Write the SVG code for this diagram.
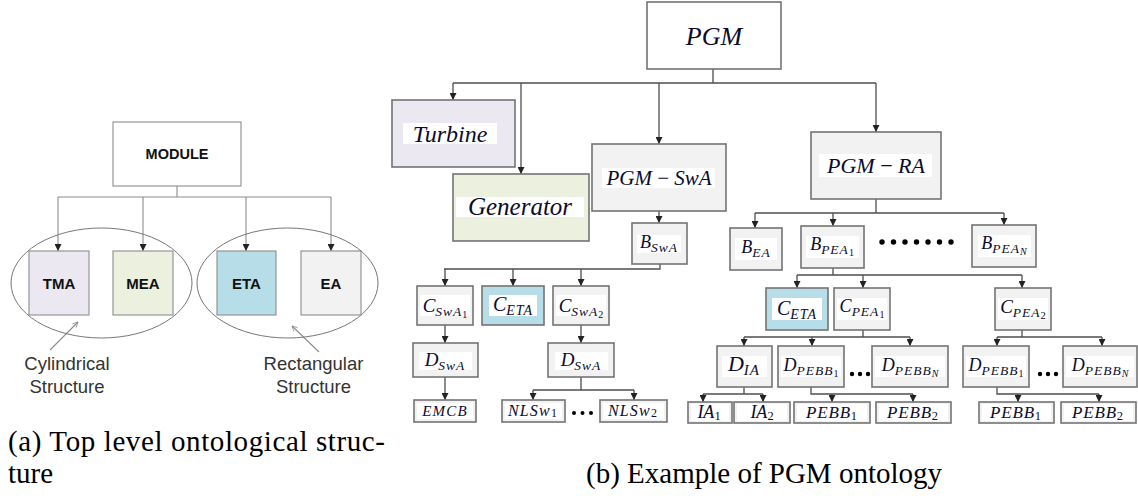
<svg xmlns="http://www.w3.org/2000/svg" width="1138" height="496" viewBox="0 0 1138 496">
<style>
.bx{fill:#f2f2f2;stroke:#737373;stroke-width:1.6}
.in{fill:#ffffff;stroke:none}
.lb{stroke:#8c8c8c;stroke-width:1.1}
.cn{fill:none;stroke:#4d4d4d;stroke-width:1.3}
.lc{fill:none;stroke:#8c8c8c;stroke-width:1.1}
.m{font-family:"Liberation Serif","Times New Roman",serif;font-style:italic;fill:#0b0b2e;text-anchor:middle}
.n{font-style:normal}
.s{letter-spacing:1px}
.sb{font-family:"Liberation Sans",Arial,sans-serif;font-weight:bold;fill:#111;text-anchor:middle}
.ss{font-family:"Liberation Sans",Arial,sans-serif;fill:#333;text-anchor:middle;font-size:18.5px}
.cap{font-family:"Liberation Serif","Times New Roman",serif;fill:#000;font-size:29px}
</style>
<defs>
<marker id="ah" viewBox="0 0 8 8" refX="8" refY="4" markerWidth="7" markerHeight="7" markerUnits="userSpaceOnUse" orient="auto"><path d="M0,0 L8,4 L0,8 z" fill="#222"/></marker>
<marker id="al" viewBox="0 0 8 8" refX="8" refY="4" markerWidth="6" markerHeight="6" markerUnits="userSpaceOnUse" orient="auto"><path d="M1,0.5 L8,4 L1,7.5" fill="none" stroke="#8c8c8c" stroke-width="1"/></marker>
</defs>

<!-- Left panel -->
<g id="left-connectors">
<path class="lc" d="M177,186 V197 M58,197 H331"/>
<line class="lc" x1="58" y1="197" x2="58" y2="251" marker-end="url(#ah)"/>
<line class="lc" x1="143" y1="197" x2="143" y2="251" marker-end="url(#ah)"/>
<line class="lc" x1="246" y1="197" x2="246" y2="251" marker-end="url(#ah)"/>
<line class="lc" x1="331" y1="197" x2="331" y2="251" marker-end="url(#ah)"/>
<line class="lc" x1="50" y1="350" x2="78" y2="322" marker-end="url(#al)"/>
<line class="lc" x1="319" y1="352" x2="292" y2="326" marker-end="url(#al)"/>
</g>
<g id="module"><rect x="113" y="122" width="128" height="64" fill="#fff" class="lb"/><text class="sb" x="177" y="159" font-size="14.5">MODULE</text></g>
<g id="cyl"><ellipse cx="101.5" cy="283" rx="90.5" ry="55" fill="none" stroke="#777" stroke-width="1"/></g>
<g id="rect"><ellipse cx="287.5" cy="283" rx="90.5" ry="55" fill="none" stroke="#777" stroke-width="1"/></g>
<g id="tma"><rect x="29" y="251" width="60" height="64" fill="#ebe8f2" class="lb"/><text class="sb" x="59" y="289" font-size="15">TMA</text></g>
<g id="mea"><rect x="113" y="251" width="60" height="64" fill="#ebf1de" class="lb"/><text class="sb" x="143" y="289" font-size="15">MEA</text></g>
<g id="eta"><rect x="217" y="251" width="59" height="64" fill="#b7dee8" class="lb"/><text class="sb" x="246.5" y="289" font-size="15">ETA</text></g>
<g id="ea"><rect x="301" y="251" width="60" height="64" fill="#f2f2f2" class="lb"/><text class="sb" x="331" y="289" font-size="15">EA</text></g>
<g id="lbl-cyl"><text class="ss" x="67" y="370">Cylindrical</text><text class="ss" x="67" y="393">Structure</text></g>
<g id="lbl-rect"><text class="ss" x="313.5" y="370">Rectangular</text><text class="ss" x="313.5" y="393">Structure</text></g>

<!-- Right panel connectors -->
<g id="connectors">
<path class="cn" d="M713,69 V83 M453,83 H876"/>
<line class="cn" x1="453" y1="83" x2="453" y2="100" marker-end="url(#ah)"/>
<line class="cn" x1="521" y1="83" x2="521" y2="174" marker-end="url(#ah)"/>
<line class="cn" x1="659" y1="83" x2="659" y2="144" marker-end="url(#ah)"/>
<line class="cn" x1="876" y1="83" x2="876" y2="132" marker-end="url(#ah)"/>
<line class="cn" x1="659" y1="211" x2="659" y2="223" marker-end="url(#ah)"/>
<path class="cn" d="M660,264 V269 H444"/>
<line class="cn" x1="445" y1="269" x2="445" y2="286" marker-end="url(#ah)"/>
<line class="cn" x1="513" y1="269" x2="513" y2="286" marker-end="url(#ah)"/>
<line class="cn" x1="581" y1="269" x2="581" y2="286" marker-end="url(#ah)"/>
<line class="cn" x1="445" y1="325" x2="445" y2="343" marker-end="url(#ah)"/>
<line class="cn" x1="445" y1="377" x2="445" y2="400" marker-end="url(#ah)"/>
<line class="cn" x1="581" y1="325" x2="581" y2="343" marker-end="url(#ah)"/>
<path class="cn" d="M581,377 V390 M533,390 H634"/>
<line class="cn" x1="533" y1="390" x2="533" y2="400" marker-end="url(#ah)"/>
<line class="cn" x1="634" y1="390" x2="634" y2="400" marker-end="url(#ah)"/>
<path class="cn" d="M876,199 V213 M755,213 H1004"/>
<line class="cn" x1="755" y1="213" x2="755" y2="228" marker-end="url(#ah)"/>
<line class="cn" x1="833" y1="213" x2="833" y2="226" marker-end="url(#ah)"/>
<line class="cn" x1="1004" y1="213" x2="1004" y2="225" marker-end="url(#ah)"/>
<path class="cn" d="M833,268 V275 M797,275 H1022"/>
<line class="cn" x1="797" y1="275" x2="797" y2="288" marker-end="url(#ah)"/>
<line class="cn" x1="863" y1="275" x2="863" y2="288" marker-end="url(#ah)"/>
<line class="cn" x1="1022" y1="275" x2="1022" y2="288" marker-end="url(#ah)"/>
<path class="cn" d="M863,330 V337 M744,337 H910"/>
<line class="cn" x1="744" y1="337" x2="744" y2="346" marker-end="url(#ah)"/>
<line class="cn" x1="812" y1="337" x2="812" y2="346" marker-end="url(#ah)"/>
<line class="cn" x1="910" y1="337" x2="910" y2="346" marker-end="url(#ah)"/>
<path class="cn" d="M1022,330 V337 M997,337 H1102"/>
<line class="cn" x1="997" y1="337" x2="997" y2="346" marker-end="url(#ah)"/>
<line class="cn" x1="1102" y1="337" x2="1102" y2="346" marker-end="url(#ah)"/>
<path class="cn" d="M744,387 V394 M703,394 H763"/>
<line class="cn" x1="703" y1="394" x2="703" y2="402" marker-end="url(#ah)"/>
<line class="cn" x1="763" y1="394" x2="763" y2="402" marker-end="url(#ah)"/>
<path class="cn" d="M811,387 V394 H913"/>
<line class="cn" x1="832" y1="394" x2="832" y2="402" marker-end="url(#ah)"/>
<line class="cn" x1="913" y1="394" x2="913" y2="402" marker-end="url(#ah)"/>
<path class="cn" d="M997,387 V394 H1099"/>
<line class="cn" x1="1018" y1="394" x2="1018" y2="402" marker-end="url(#ah)"/>
<line class="cn" x1="1099" y1="394" x2="1099" y2="402" marker-end="url(#ah)"/>
</g>

<!-- Right panel nodes -->
<g id="pgm"><rect x="647" y="2" width="134" height="67" fill="#fff" stroke="#737373" stroke-width="1.6"/><text class="m" x="714" y="45" font-size="26" fill="#111">PGM</text></g>
<g id="turbine"><rect x="392" y="100" width="123" height="67" fill="#ebe8f2" stroke="#737373" stroke-width="1.6"/><rect class="in" x="403" y="123" width="94" height="21"/><text class="m" x="450" y="142" font-size="24" fill="#111">Turbine</text></g>
<g id="generator"><rect x="453" y="174" width="136" height="67" fill="#ebf1de" stroke="#737373" stroke-width="1.6"/><rect class="in" x="456" y="197" width="128" height="20"/><text class="m" x="520" y="215" font-size="25" fill="#111">Generator</text></g>
<g id="pgm-swa"><rect class="bx" x="592" y="144" width="134" height="67"/><rect class="in" x="602" y="168" width="113" height="20"/><text class="m" x="659" y="185" font-size="21">PGM <tspan class="n">−</tspan> SwA</text></g>
<g id="pgm-ra"><rect class="bx" x="811" y="132" width="130" height="67"/><rect class="in" x="819" y="154" width="113" height="23"/><text class="m" x="876" y="173" font-size="22">PGM <tspan class="n">−</tspan> RA</text></g>

<g id="b-swa"><rect class="bx" x="632" y="223" width="55" height="41"/><rect class="in" x="637" y="235" width="44" height="18"/><text class="m" x="659" y="248" font-size="18">B<tspan class="s" font-size="13.5" dy="4">SwA</tspan></text></g>
<g id="b-ea"><rect class="bx" x="730" y="228" width="52" height="42"/><rect class="in" x="735" y="238" width="42" height="22"/><text class="m" x="756" y="253" font-size="18">B<tspan class="s" font-size="13.5" dy="4">EA</tspan></text></g>
<g id="b-pea1"><rect class="bx" x="801" y="226" width="63" height="42"/><rect class="in" x="806" y="236" width="53" height="22"/><text class="m" x="832" y="250" font-size="18">B<tspan class="s" font-size="13.5" dy="4">PEA</tspan><tspan class="n" font-size="10" dy="2">1</tspan></text></g>
<g id="dots-b"><circle cx="882" cy="242" r="2.7" fill="#000"/><circle cx="893.5" cy="242" r="2.7" fill="#000"/><circle cx="905" cy="242" r="2.7" fill="#000"/><circle cx="916.5" cy="242" r="2.7" fill="#000"/><circle cx="928" cy="242" r="2.7" fill="#000"/><circle cx="939.5" cy="242" r="2.7" fill="#000"/><circle cx="951" cy="242" r="2.7" fill="#000"/></g>
<g id="b-pean"><rect class="bx" x="972" y="225" width="64" height="42"/><rect class="in" x="978" y="235" width="53" height="22"/><text class="m" x="1004" y="249" font-size="18">B<tspan class="s" font-size="13.5" dy="4">PEA</tspan><tspan font-size="10" dy="2">N</tspan></text></g>

<g id="c-swa1"><rect class="bx" x="417" y="286" width="56" height="39"/><rect class="in" x="420" y="295" width="50" height="21"/><text class="m" x="445" y="312" font-size="19">C<tspan class="s" font-size="13.5" dy="4">SwA</tspan><tspan class="n" font-size="10" dy="2">1</tspan></text></g>
<g id="c-eta1"><rect x="482" y="286" width="62" height="39" fill="#b7dee8" stroke="#737373" stroke-width="1.6"/><rect class="in" x="489" y="295" width="48" height="21"/><text class="m" x="513" y="311" font-size="20">C<tspan class="s" font-size="14" dy="4">ETA</tspan></text></g>
<g id="c-swa2"><rect class="bx" x="553" y="286" width="56" height="39"/><rect class="in" x="556" y="295" width="50" height="21"/><text class="m" x="581" y="312" font-size="19">C<tspan class="s" font-size="13.5" dy="4">SwA</tspan><tspan class="n" font-size="10" dy="2">2</tspan></text></g>
<g id="d-swa1"><rect class="bx" x="413" y="343" width="65" height="34"/><rect class="in" x="419" y="352" width="53" height="18"/><text class="m" x="445" y="366" font-size="19">D<tspan class="s" font-size="13.5" dy="4">SwA</tspan></text></g>
<g id="d-swa2"><rect class="bx" x="548" y="343" width="66" height="34"/><rect class="in" x="555" y="352" width="53" height="18"/><text class="m" x="581" y="366" font-size="19">D<tspan class="s" font-size="13.5" dy="4">SwA</tspan></text></g>
<g id="emcb"><rect class="bx" x="414" y="400" width="62" height="22"/><rect class="in" x="417" y="403" width="56" height="16"/><text class="m" x="445" y="416" font-size="15" letter-spacing="1.2">EMCB</text></g>
<g id="nlsw1"><rect class="bx" x="502" y="400" width="63" height="22"/><rect class="in" x="505" y="403" width="57" height="16"/><text class="m" x="533" y="416" font-size="16" letter-spacing="1.2">NLSw<tspan class="n" font-size="12" dy="1">1</tspan></text></g>
<g id="dots-nl"><circle cx="574" cy="413" r="2" fill="#000"/><circle cx="582.5" cy="413" r="2" fill="#000"/><circle cx="591" cy="413" r="2" fill="#000"/></g>
<g id="nlsw2"><rect class="bx" x="600" y="400" width="67" height="22"/><rect class="in" x="603" y="403" width="61" height="16"/><text class="m" x="633" y="416" font-size="16" letter-spacing="1.2">NLSw<tspan class="n" font-size="12" dy="1">2</tspan></text></g>

<g id="c-eta2"><rect x="766" y="288" width="62" height="42" fill="#b7dee8" stroke="#737373" stroke-width="1.6"/><rect class="in" x="772" y="298" width="50" height="22"/><text class="m" x="797" y="315" font-size="20">C<tspan class="s" font-size="14" dy="4">ETA</tspan></text></g>
<g id="c-pea1"><rect class="bx" x="834" y="288" width="56" height="42"/><rect class="in" x="837" y="298" width="50" height="22"/><text class="m" x="862" y="312" font-size="18">C<tspan class="s" font-size="13.5" dy="4">PEA</tspan><tspan class="n" font-size="10" dy="2">1</tspan></text></g>
<g id="c-pea2"><rect class="bx" x="995" y="288" width="56" height="42"/><rect class="in" x="998" y="298" width="50" height="22"/><text class="m" x="1023" y="313" font-size="19">C<tspan class="s" font-size="13.5" dy="4">PEA</tspan><tspan class="n" font-size="10.5" dy="2">2</tspan></text></g>
<g id="d-ia"><rect class="bx" x="717" y="346" width="55" height="41"/><rect class="in" x="722" y="356" width="45" height="21"/><text class="m" x="744" y="371" font-size="22">D<tspan class="s" font-size="15" dy="4">IA</tspan></text></g>
<g id="d-pebb1"><rect class="bx" x="778" y="346" width="66" height="41"/><rect class="in" x="781" y="356" width="60" height="21"/><text class="m" x="811" y="371" font-size="18">D<tspan class="s" font-size="13.5" dy="4">PEBB</tspan><tspan class="n" font-size="10" dy="2">1</tspan></text></g>
<g id="dots-d1"><circle cx="852" cy="374" r="2.2" fill="#000"/><circle cx="860" cy="374" r="2.2" fill="#000"/><circle cx="868" cy="374" r="2.2" fill="#000"/></g>
<g id="d-pebbn"><rect class="bx" x="872" y="346" width="76" height="41"/><rect class="in" x="875" y="356" width="70" height="21"/><text class="m" x="910" y="371" font-size="18">D<tspan class="s" font-size="13.5" dy="4">PEBB</tspan><tspan font-size="10" dy="2">N</tspan></text></g>
<g id="d-pebb1b"><rect class="bx" x="963" y="346" width="66" height="41"/><rect class="in" x="966" y="356" width="60" height="21"/><text class="m" x="996" y="371" font-size="18">D<tspan class="s" font-size="13.5" dy="4">PEBB</tspan><tspan class="n" font-size="10" dy="2">1</tspan></text></g>
<g id="dots-d2"><circle cx="1040" cy="374" r="2.2" fill="#000"/><circle cx="1048" cy="374" r="2.2" fill="#000"/><circle cx="1056" cy="374" r="2.2" fill="#000"/></g>
<g id="d-pebbnb"><rect class="bx" x="1063" y="346" width="74" height="41"/><rect class="in" x="1066" y="356" width="68" height="21"/><text class="m" x="1100" y="371" font-size="18">D<tspan class="s" font-size="13.5" dy="4">PEBB</tspan><tspan font-size="10" dy="2">N</tspan></text></g>

<g id="ia1"><rect class="bx" x="688" y="402" width="44" height="21"/><rect class="in" x="691" y="404" width="38" height="17"/><text class="m" x="709" y="418" font-size="18">IA<tspan class="n" font-size="12.5" dy="2">1</tspan></text></g>
<g id="ia2"><rect class="bx" x="734" y="402" width="56" height="21"/><rect class="in" x="737" y="404" width="50" height="17"/><text class="m" x="762" y="418" font-size="18">IA<tspan class="n" font-size="12.5" dy="2">2</tspan></text></g>
<g id="pebb1"><rect class="bx" x="794" y="402" width="76" height="21"/><rect class="in" x="797" y="404" width="70" height="17"/><text class="m" x="832" y="418" font-size="17" letter-spacing="0.8">PEBB<tspan class="n" font-size="12.5" dy="2">1</tspan></text></g>
<g id="pebb2"><rect class="bx" x="876" y="402" width="75" height="21"/><rect class="in" x="879" y="404" width="69" height="17"/><text class="m" x="913" y="418" font-size="17" letter-spacing="0.8">PEBB<tspan class="n" font-size="12.5" dy="2">2</tspan></text></g>
<g id="pebb1b"><rect class="bx" x="979" y="402" width="75" height="21"/><rect class="in" x="982" y="404" width="69" height="17"/><text class="m" x="1016" y="418" font-size="17" letter-spacing="0.8">PEBB<tspan class="n" font-size="12.5" dy="2">1</tspan></text></g>
<g id="pebb2b"><rect class="bx" x="1061" y="402" width="75" height="21"/><rect class="in" x="1064" y="404" width="69" height="17"/><text class="m" x="1098" y="418" font-size="17" letter-spacing="0.8">PEBB<tspan class="n" font-size="12.5" dy="2">2</tspan></text></g>

<!-- Captions -->
<g id="captions">
<text class="cap" x="8" y="451" textLength="377" lengthAdjust="spacing">(a) Top level ontological struc-</text>
<text class="cap" x="8" y="483">ture</text>
<text class="cap" x="586" y="483">(b) Example of PGM ontology</text>
</g>
</svg>
